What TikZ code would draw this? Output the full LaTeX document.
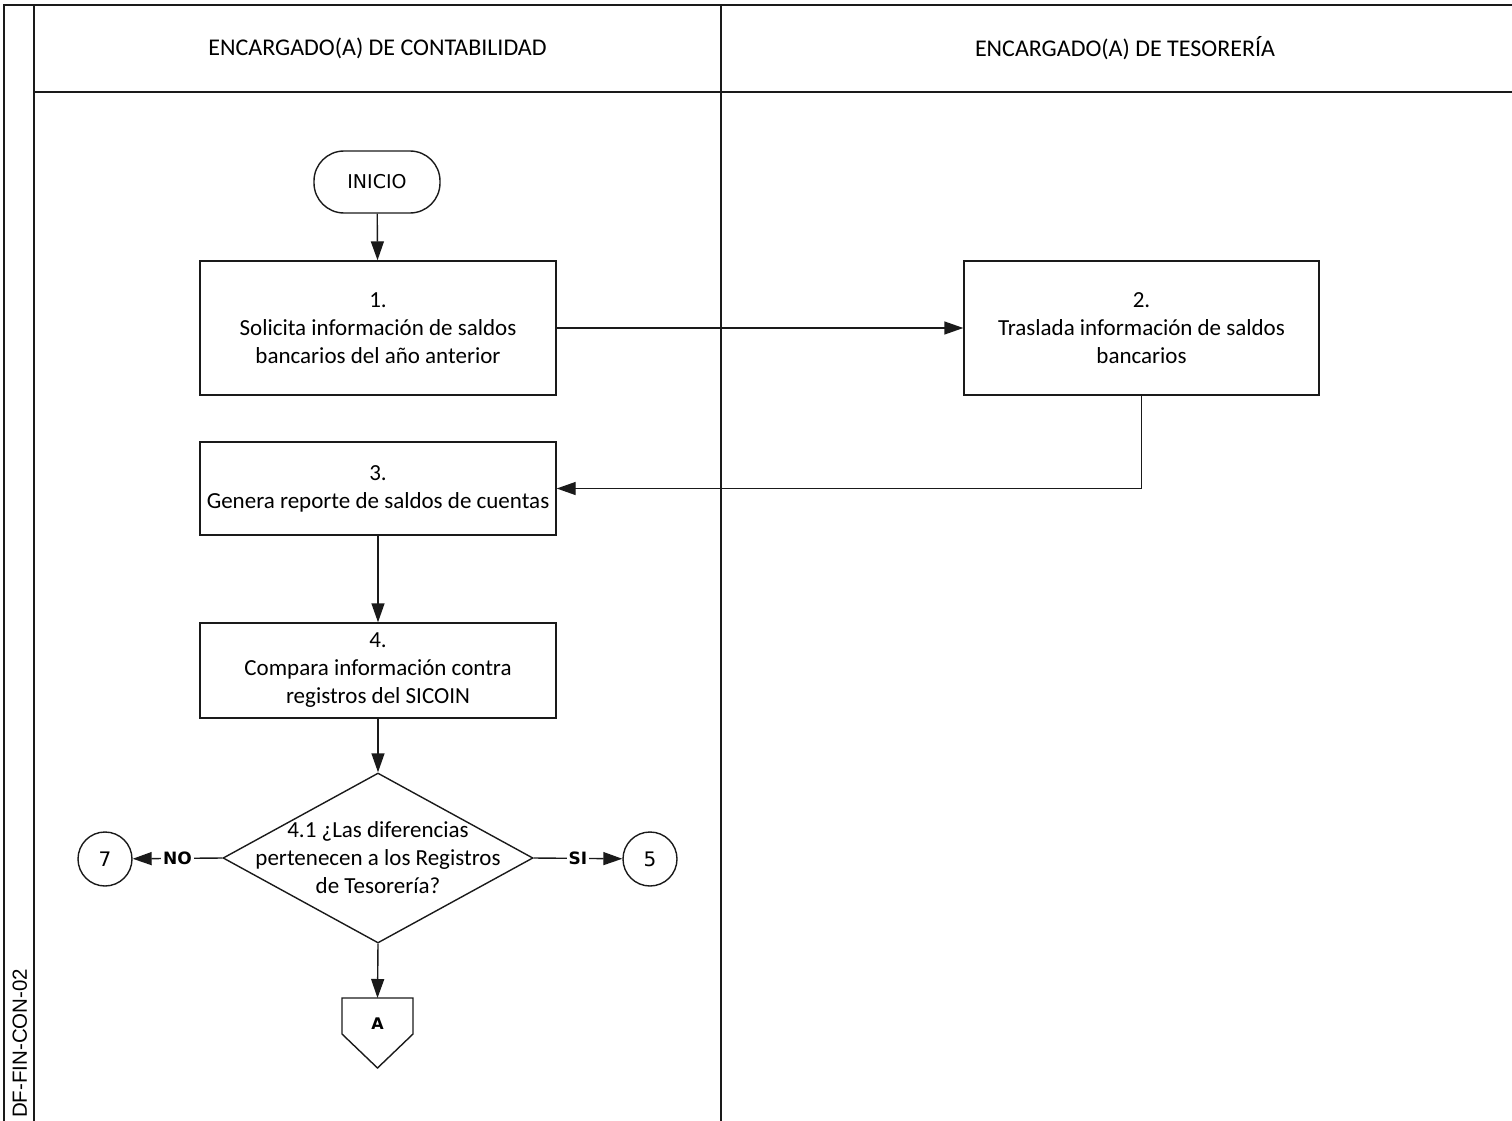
\documentclass[tikz,border=0pt]{standalone}
\usepackage{fontspec}
\setmainfont{Carlito}
\newfontfamily\dejavu{DejaVu Sans}
\newfontfamily\arialfont{Liberation Sans}
\usetikzlibrary{arrows.meta,shapes.geometric}
\definecolor{linea}{HTML}{1A1A1A}

\begin{document}
\begin{tikzpicture}[x=1pt, y=-1pt,
    paso/.style={draw=linea, fill=white, line width=1.4pt,
                 minimum width=356pt, align=center,
                 font=\fontsize{23}{28}\selectfont},
    inicio/.style={draw=linea, rounded corners=30pt, line width=1.4pt,
                   minimum width=126pt, minimum height=62pt,
                   font=\dejavu\fontsize{19}{21}\selectfont},
    decision/.style={diamond, draw=linea, line width=1.4pt,
                     minimum width=310pt, minimum height=170pt, inner sep=0pt},
    conector/.style={circle, draw=linea, line width=1.4pt, minimum size=54pt,
                     inner sep=0pt, font=\dejavu\fontsize{20}{22}\selectfont},
    flecha/.style={draw=linea, line width=1.4pt, -{Triangle[length=19pt,width=13pt]}},
    etiqueta/.style={fill=white, inner sep=2pt,
                     font=\dejavu\bfseries\fontsize{17}{19}\selectfont},
    carril/.style={draw=linea, line width=2pt},
]
\useasboundingbox (0,0) rectangle (1512,1121);

% Carriles
\draw[carril] (4,1121) -- (4,5) -- (1512,5);
\draw[carril] (34,5) -- (34,1121);
\draw[carril, line width=2.5pt] (721,5) -- (721,1121);
\draw[carril] (34,92) -- (1512,92);
\node[font=\fontsize{24}{28}\selectfont] (cont) at (377.5,48) {ENCARGADO(A) DE CONTABILIDAD};
\node[font=\fontsize{24}{28}\selectfont] (teso) at (1125,48) {ENCARGADO(A) DE TESORERÍA};
\node[rotate=90, anchor=base west, inner sep=0pt,
      font=\arialfont\fontsize{20.5}{22}\selectfont] (codigo) at (27,1118) {DF-FIN-CON-02};

% Inicio
\node[inicio] (ini) at (377,182) {INICIO};

% Paso 1
\node[paso, minimum height=134pt] (p1) at (378,328) {
    1.\\
    Solicita información de saldos\\
    bancarios del año anterior
};

% Paso 2
\node[paso, minimum width=355pt, minimum height=134pt] (p2) at (1141.5,328) {
    2.\\
    Traslada información de saldos\\
    bancarios
};

% Paso 3
\node[paso, minimum height=93pt] (p3) at (378,488.5) {
    3.\\
    Genera reporte de saldos de cuentas
};

% Paso 4
\node[paso, minimum height=95pt] (p4) at (378,670.5) {
    4.\\
    Compara información contra\\
    registros del SICOIN
};

% Decision 4.1
\node[decision] (d41) at (378,858) {};
\node[align=center, font=\fontsize{23}{28}\selectfont] (d41txt) at (378,858) {
    4.1 ¿Las diferencias\\
    pertenecen a los Registros\\
    de Tesorería?
};

% Conectores
\node[conector] (c7) at (105,859) {7};
\node[conector] (c5) at (650,859) {5};

% Fuera de pagina
\draw[draw=linea, line width=1.4pt] (342,998) -- (413,998) -- (413,1034)
    -- (377.5,1068) -- (342,1034) -- cycle;
\coordinate (pA) at (377.5,998);
\node[font=\dejavu\bfseries\fontsize{16}{18}\selectfont] (A) at (377.5,1024) {A};

% Flechas
\draw[flecha] (ini) -- (p1);
\draw[flecha] (p1) -- (p2);
\draw[flecha] (p2.south) |- (p3.east);
\draw[flecha] (p3) -- (p4);
\draw[flecha] (p4) -- (d41);
\draw[flecha] (d41.west) -- node[etiqueta, pos=0.5] {NO} (c7);
\draw[flecha] (d41.east) -- node[etiqueta, pos=0.5] {SI} (c5);
\draw[flecha] (d41.south) -- (pA);

\end{tikzpicture}
\end{document}
